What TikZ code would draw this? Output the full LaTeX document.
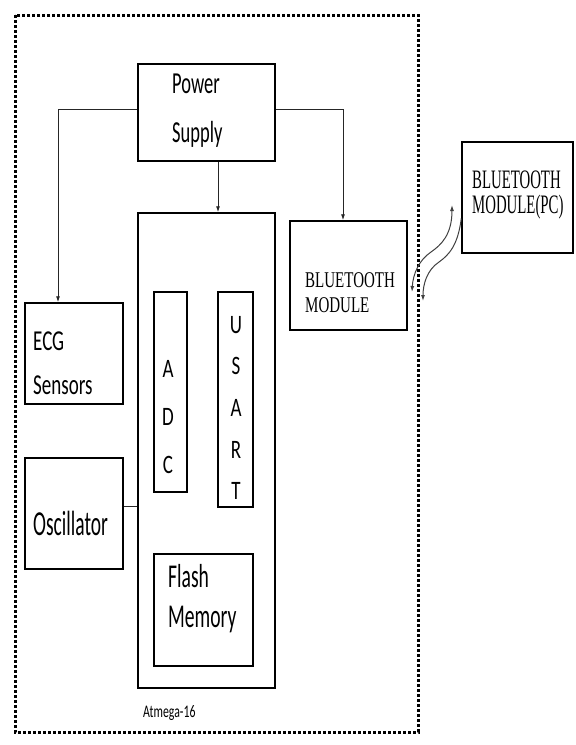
\documentclass[tikz,border=0pt]{standalone}
\usepackage{fontspec}
\usepackage{graphicx}
\usepackage{tikz}
\usetikzlibrary{arrows.meta,positioning}
\newfontfamily\calfont{Carlito}
\newfontfamily\romfont{Liberation Serif}
% tall, narrow lettering: #1 = vertical stretch, #2 = column type, #3 = lines
\newcommand{\tallText}[3]{\scalebox{1}[#1]{\begin{tabular}[t]{@{}#2@{}}#3\end{tabular}}}

\begin{document}
\begin{tikzpicture}[
  x=1pt, y=-1pt,
  >={Latex[length=6pt,width=4pt]},
  blk/.style={draw=black, line width=1.5pt, inner sep=0pt},
  txt/.style={inner sep=0pt, anchor=base west, text=black},
  wire/.style={draw=black!85, line width=0.9pt},
  link/.style={->, wire},
  radio/.style={draw=black!75, line width=1pt},
  border/.style={draw=black, line width=3pt, dash pattern=on 3.2pt off 1.8pt}
]
\useasboundingbox (0,0) rectangle (576,745);

% outer dotted frame
\draw[border] (15,15) rectangle (418,732);

% blocks
\node[blk, minimum width=137pt, minimum height=97pt]  (power) at (206.5,112.5) {};
\node[blk, minimum width=137pt, minimum height=475pt] (atmega) at (206.5,450.5) {};
\node[blk, minimum width=98pt,  minimum height=101pt] (ecg) at (74,353.5) {};
\node[blk, minimum width=98pt,  minimum height=111pt] (osc) at (74,513.5) {};
\node[blk, minimum width=33pt,  minimum height=200pt] (adc) at (170.5,392) {};
\node[blk, minimum width=35pt,  minimum height=215pt] (usart) at (235.5,399.5) {};
\node[blk, minimum width=99pt,  minimum height=112pt] (flash) at (203.5,610) {};
\node[blk, minimum width=117pt, minimum height=109pt] (btm) at (348.5,275.5) {};
\node[blk, minimum width=111pt, minimum height=111pt] (btpc) at (517.5,197.5) {};

% labels
\node[txt, font=\calfont\fontsize{18.5}{29.7}\selectfont] (powertxt) at (172,93)
  {\tallText{1.65}{l}{Power\\Supply}};
\node[txt, font=\calfont\fontsize{19}{29.6}\selectfont] (ecgtxt) at (33,350)
  {\tallText{1.52}{l}{ECG\\Sensors}};
\node[txt, anchor=base, font=\calfont\fontsize{19}{34.3}\selectfont] (adctxt) at (168,377)
  {\tallText{1.4}{c}{A\\D\\C}};
\node[txt, anchor=base, font=\calfont\fontsize{19}{29.8}\selectfont] (usarttxt) at (236,333)
  {\tallText{1.4}{c}{U\\S\\A\\R\\T}};
\node[txt, font=\calfont\fontsize{19.5}{30}\selectfont] (osctxt) at (33,535)
  {\tallText{1.8}{l}{Oscillator}};
\node[txt, font=\calfont\fontsize{19.6}{24.1}\selectfont] (flashtxt) at (168,587)
  {\tallText{1.7}{l}{Flash\\Memory}};
\node[txt, font=\calfont\fontsize{11.8}{14}\selectfont] (atmegatxt) at (143,717)
  {\tallText{1.5}{l}{Atmega-16}};
\node[txt, font=\romfont\fontsize{15}{17.3}\selectfont] (btmtxt) at (305,287)
  {\tallText{1.5}{l}{BLUETOOTH\\MODULE}};
\node[txt, font=\romfont\fontsize{14.8}{12.8}\selectfont] (btpctxt) at (472,188)
  {\tallText{1.8}{l}{BLUETOOTH\\MODULE(PC)}};

% power lines
\draw[link] ([yshift=3.5pt]power.west) -| ([xshift=-16pt]ecg.north);
\draw[link] ([yshift=3.5pt]power.east) -| ([xshift=-5.5pt]btm.north);
\draw[link] ([xshift=11.5pt]power.south) -- ([xshift=11.5pt]atmega.north);
\draw[wire] ([yshift=7.5pt]osc.east) -- ([yshift=7.5pt]osc.east -| atmega.west);

% wireless link
\coordinate (airA) at (452,205);
\coordinate (airB) at (412,292);
\coordinate (airC) at (423,301);
\draw[radio, <->] (airA) .. controls (452,235) and (441,245) .. (431,252)
  .. controls (419,260) and (413,274) .. (airB);
\draw[radio, ->] ([yshift=-21pt]btpc.west) .. controls (458,245) and (449,255) .. (439,262)
  .. controls (427,270) and (423,284) .. (airC);
\end{tikzpicture}
\end{document}
